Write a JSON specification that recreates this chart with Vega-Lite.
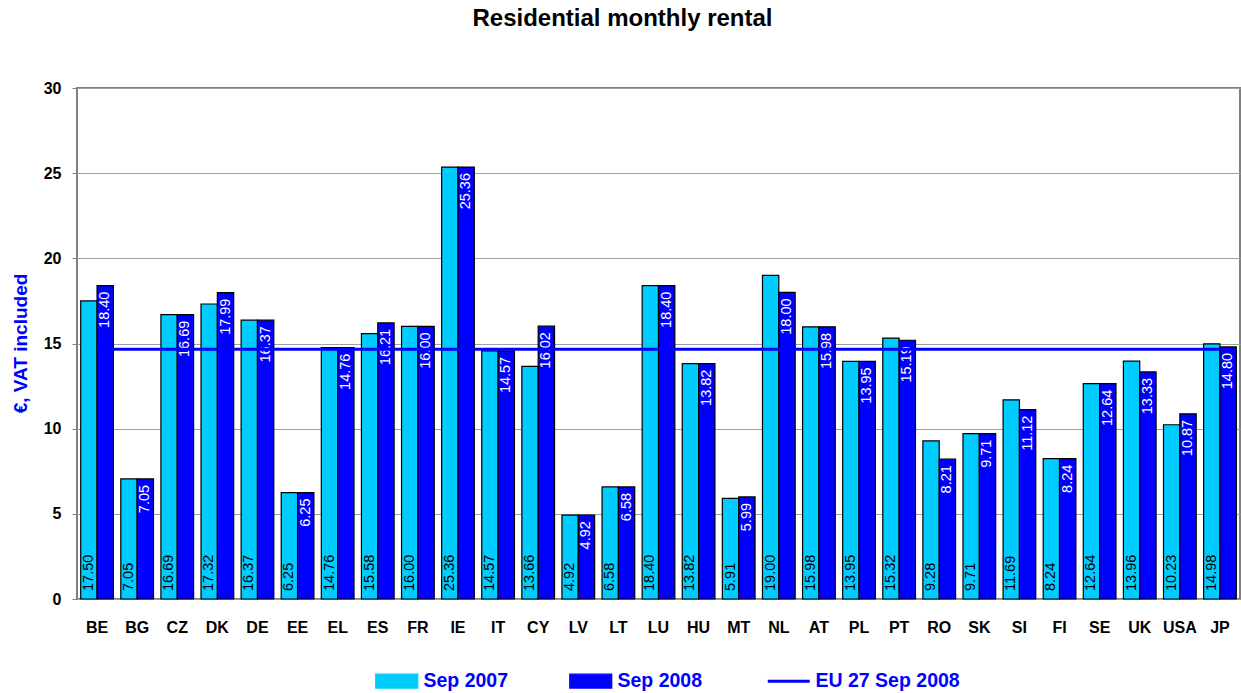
{
  "$schema": "https://vega.github.io/schema/vega-lite/v6.json",
  "width": 1163,
  "height": 511,
  "autosize": {"type": "none"},
  "padding": {"left": 77, "top": 88, "right": 1, "bottom": 94},
  "background": "white",
  "title": {"text": "Residential monthly rental", "font": "Liberation Sans", "fontSize": 24, "fontWeight": "bold", "color": "black", "anchor": "middle", "offset": 49, "dx": -36},
  "config": {
    "font": "Liberation Sans",
    "view": {"stroke": "#808080", "strokeWidth": 2},
    "axis": {"labelFont": "Liberation Sans"}
  },
  "data": {"values": [
    {"country": "BE", "Sep 2007": 17.50, "Sep 2008": 18.40, "eu": 14.66},
    {"country": "BG", "Sep 2007": 7.05, "Sep 2008": 7.05, "eu": 14.66},
    {"country": "CZ", "Sep 2007": 16.69, "Sep 2008": 16.69, "eu": 14.66},
    {"country": "DK", "Sep 2007": 17.32, "Sep 2008": 17.99, "eu": 14.66},
    {"country": "DE", "Sep 2007": 16.37, "Sep 2008": 16.37, "eu": 14.66},
    {"country": "EE", "Sep 2007": 6.25, "Sep 2008": 6.25, "eu": 14.66},
    {"country": "EL", "Sep 2007": 14.76, "Sep 2008": 14.76, "eu": 14.66},
    {"country": "ES", "Sep 2007": 15.58, "Sep 2008": 16.21, "eu": 14.66},
    {"country": "FR", "Sep 2007": 16.00, "Sep 2008": 16.00, "eu": 14.66},
    {"country": "IE", "Sep 2007": 25.36, "Sep 2008": 25.36, "eu": 14.66},
    {"country": "IT", "Sep 2007": 14.57, "Sep 2008": 14.57, "eu": 14.66},
    {"country": "CY", "Sep 2007": 13.66, "Sep 2008": 16.02, "eu": 14.66},
    {"country": "LV", "Sep 2007": 4.92, "Sep 2008": 4.92, "eu": 14.66},
    {"country": "LT", "Sep 2007": 6.58, "Sep 2008": 6.58, "eu": 14.66},
    {"country": "LU", "Sep 2007": 18.40, "Sep 2008": 18.40, "eu": 14.66},
    {"country": "HU", "Sep 2007": 13.82, "Sep 2008": 13.82, "eu": 14.66},
    {"country": "MT", "Sep 2007": 5.91, "Sep 2008": 5.99, "eu": 14.66},
    {"country": "NL", "Sep 2007": 19.00, "Sep 2008": 18.00, "eu": 14.66},
    {"country": "AT", "Sep 2007": 15.98, "Sep 2008": 15.98, "eu": 14.66},
    {"country": "PL", "Sep 2007": 13.95, "Sep 2008": 13.95, "eu": 14.66},
    {"country": "PT", "Sep 2007": 15.32, "Sep 2008": 15.19, "eu": 14.66},
    {"country": "RO", "Sep 2007": 9.28, "Sep 2008": 8.21, "eu": 14.66},
    {"country": "SK", "Sep 2007": 9.71, "Sep 2008": 9.71, "eu": 14.66},
    {"country": "SI", "Sep 2007": 11.69, "Sep 2008": 11.12, "eu": 14.66},
    {"country": "FI", "Sep 2007": 8.24, "Sep 2008": 8.24, "eu": 14.66},
    {"country": "SE", "Sep 2007": 12.64, "Sep 2008": 12.64, "eu": 14.66},
    {"country": "UK", "Sep 2007": 13.96, "Sep 2008": 13.33, "eu": 14.66},
    {"country": "USA", "Sep 2007": 10.23, "Sep 2008": 10.87, "eu": 14.66},
    {"country": "JP", "Sep 2007": 14.98, "Sep 2008": 14.80, "eu": 14.66}
  ]},
  "encoding": {
    "x": {
      "field": "country", "type": "nominal", "sort": null,
      "scale": {"paddingInner": 0.185, "paddingOuter": 0.0925},
      "axis": {"title": null, "labelAngle": 0, "labelFontSize": 16, "labelFontWeight": "bold", "labelColor": "black", "domain": false, "ticks": false, "labelPadding": 20}
    }
  },
  "layer": [
    {
      "transform": [{"fold": ["Sep 2007", "Sep 2008"], "as": ["series", "value"]}],
      "mark": {"type": "bar", "stroke": "black", "strokeWidth": 1.2, "opacity": 1},
      "encoding": {
        "xOffset": {"field": "series", "type": "nominal", "scale": {"domain": ["Sep 2007", "Sep 2008"], "paddingInner": 0, "paddingOuter": 0}},
        "y": {
          "field": "value", "type": "quantitative",
          "scale": {"domain": [0, 30], "nice": false},
          "axis": {"values": [0, 5, 10, 15, 20, 25, 30], "grid": true, "gridColor": "#A0A0A0", "gridWidth": 1, "domain": false, "tickColor": "#808080", "tickSize": 5, "labelPadding": 11, "labelFontSize": 16, "labelFontWeight": "bold", "labelColor": "black", "title": "€, VAT included", "titleColor": "#0000FF", "titleFontSize": 19, "titleFontWeight": "bold", "titleFont": "Liberation Sans", "titleX": -57, "titleY": 255, "titleAngle": 270, "titleBaseline": "middle", "titleAlign": "center"}
        },
        "color": {
          "field": "series", "type": "nominal",
          "scale": {"domain": ["Sep 2007", "Sep 2008", "EU 27 Sep 2008"], "range": ["#00CCFF", "#0000FF", "#0000FF"]},
          "legend": {
            "title": null, "orient": "none", "legendX": 310, "legendY": 583, "direction": "horizontal",
            "padding": 0, "columnPadding": 58, "labelOffset": 17,
            "labelFont": "Liberation Sans", "labelFontSize": 19.5, "labelFontWeight": "bold", "labelColor": "#0000FF",
            "symbolSize": 1764,
            "encode": {
              "symbols": {
                "update": {
                  "shape": {"signal": "datum.value === 'EU 27 Sep 2008' ? 'stroke' : 'M-1,-0.333H1V0.333H-1Z'"},
                  "fill": {"signal": "datum.value === 'Sep 2007' ? '#00CCFF' : (datum.value === 'Sep 2008' ? '#0000FF' : 'transparent')"},
                  "stroke": {"signal": "datum.value === 'EU 27 Sep 2008' ? '#0000FF' : 'black'"},
                  "strokeWidth": {"signal": "datum.value === 'EU 27 Sep 2008' ? 3 : 1.2"},
                  "opacity": {"value": 1}
                }
              }
            }
          }
        }
      }
    },
    {
      "transform": [{"fold": ["Sep 2007", "Sep 2008"], "as": ["series", "value"]}, {"filter": "datum.series === 'Sep 2007'"}],
      "mark": {"type": "text", "angle": 270, "align": "left", "baseline": "middle", "dx": 8, "fontSize": 14.5, "color": "black"},
      "encoding": {
        "xOffset": {"field": "series", "type": "nominal"},
        "y": {"datum": 0, "type": "quantitative"},
        "text": {"field": "value", "type": "quantitative", "format": ".2f"}
      }
    },
    {
      "transform": [{"fold": ["Sep 2007", "Sep 2008"], "as": ["series", "value"]}, {"filter": "datum.series === 'Sep 2008'"}],
      "mark": {"type": "text", "angle": 270, "align": "right", "baseline": "middle", "dx": -6, "fontSize": 14.5, "color": "white"},
      "encoding": {
        "xOffset": {"field": "series", "type": "nominal"},
        "y": {"field": "value", "type": "quantitative"},
        "text": {"field": "value", "type": "quantitative", "format": ".2f"}
      }
    },
    {
      "mark": {"type": "line", "strokeWidth": 3},
      "encoding": {
        "y": {"field": "eu", "type": "quantitative"},
        "color": {
          "datum": "EU 27 Sep 2008",
          "legend": {
            "title": null, "orient": "none", "legendX": 310, "legendY": 583, "direction": "horizontal",
            "padding": 0, "columnPadding": 58, "labelOffset": 17,
            "labelFont": "Liberation Sans", "labelFontSize": 19.5, "labelFontWeight": "bold", "labelColor": "#0000FF",
            "symbolSize": 1764,
            "encode": {
              "symbols": {
                "update": {
                  "shape": {"signal": "datum.value === 'EU 27 Sep 2008' ? 'stroke' : 'M-1,-0.333H1V0.333H-1Z'"},
                  "fill": {"signal": "datum.value === 'Sep 2007' ? '#00CCFF' : (datum.value === 'Sep 2008' ? '#0000FF' : 'transparent')"},
                  "stroke": {"signal": "datum.value === 'EU 27 Sep 2008' ? '#0000FF' : 'black'"},
                  "strokeWidth": {"signal": "datum.value === 'EU 27 Sep 2008' ? 3 : 1.2"},
                  "opacity": {"value": 1}
                }
              }
            }
          }
        }
      }
    }
  ]
}
